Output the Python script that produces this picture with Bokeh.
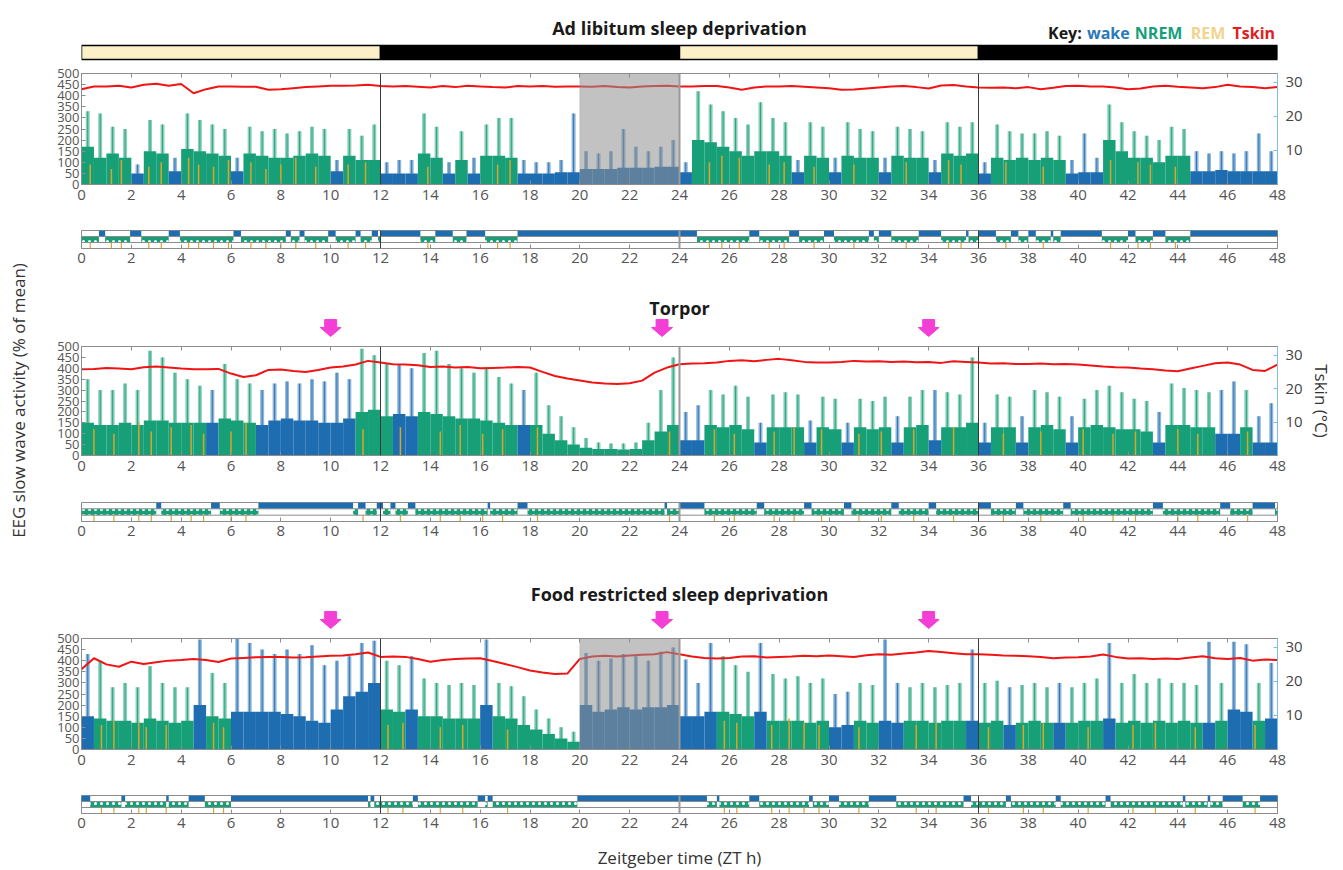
import numpy as np
from bokeh.plotting import figure
from bokeh.layouts import column, row
from bokeh.models import Range1d, LinearAxis, FixedTicker, Span, BoxAnnotation
from bokeh.embed import file_html
from bokeh.resources import INLINE
from bokeh.core.properties import value

# ---------------- data ----------------
hour_ticks = list(range(0, 49, 2))
swa_ticks = list(range(0, 501, 50))
tskin_ticks = [10, 20, 30]
day_boundaries = [12, 24, 36]
ld_start = [0, 12, 24, 36]
ld_end = [12, 24, 36, 48]
ld_phase = ["light", "dark", "light", "dark"]

t_grid = np.arange(0, 48.01, 0.5)      # Tskin sample times (h)
bin_mid = np.arange(0.25, 48, 0.5)     # SWA 30-min bins (h)

# --- Ad libitum sleep deprivation ---
state_adlib = ("NNNNWNNWNNNNWNNNNNNNWNNN" "WWWNNWNWNNNWWWWWWWWWWWWW"
               "WNNNNNNNNWNNWNNNWNNNWNNN" "WNNNNNNWWWNNNNNNNWWWWWWW")
swa_body_adlib = [170,120,140,120,50,150,140,60,160,150,140,130,60,140,130,120,120,130,140,130,60,130,110,110,
                  50,50,50,140,120,50,110,50,130,130,120,50,50,50,55,55,70,70,70,75,75,75,80,80,
                  55,200,190,170,150,130,150,150,130,55,130,120,55,130,120,120,55,130,120,120,55,140,130,140,
                  50,120,110,120,110,120,110,50,55,55,200,150,120,120,100,130,130,60,60,65,60,60,60,60]
swa_peak_adlib = [330,320,260,250,90,290,270,120,320,290,270,250,120,260,240,250,230,240,260,250,110,250,220,270,
                  100,110,110,320,260,100,240,120,270,300,300,110,100,100,110,320,150,140,150,250,170,150,170,200,
                  100,420,360,330,300,270,370,300,280,110,280,260,120,280,250,240,120,260,250,240,110,280,260,280,
                  100,270,240,230,230,240,220,110,230,120,360,280,240,220,200,260,250,150,140,150,140,150,230,150]
tskin_adlib = [28.0,28.8,28.8,29.0,28.5,29.3,29.6,29.0,29.5,26.8,28.0,28.8,28.8,28.7,28.7,27.8,28.0,28.3,28.6,28.8,29.0,29.0,29.1,29.3,
               28.9,28.8,28.9,28.7,28.5,28.9,28.6,29.0,28.8,28.6,28.5,28.9,28.8,28.9,28.7,28.8,28.8,28.7,28.9,28.6,28.5,28.8,28.9,29.0,
               28.8,28.8,28.9,28.9,28.5,27.8,28.5,28.8,28.8,28.9,28.7,28.5,28.3,27.8,27.9,28.2,28.5,28.8,28.9,28.6,28.2,29.1,29.2,28.8,
               28.5,28.4,28.5,28.3,28.6,28.0,28.4,28.9,29.0,28.8,28.8,28.5,28.0,28.2,28.8,29.0,28.7,28.5,28.3,28.6,29.3,28.8,28.6,28.3,28.6]
wake_adlib = [(0.7,0.95),(1.95,2.4),(3.5,3.95),(6.1,6.4),(8.2,8.4),(8.75,8.95),(9.9,10.2),(11.0,11.2),(11.65,11.9),
              (12.0,13.6),(14.2,14.9),(15.45,16.2),(17.5,24.7),(26.8,27.2),(28.4,28.8),(29.8,30.2),(31.6,31.8),
              (32.0,32.5),(33.6,34.5),(35.5,35.6),(36.0,36.7),(37.3,37.6),(38.0,38.3),(38.9,39.0),(39.3,40.95),
              (42.0,42.3),(43.0,43.5),(44.5,48.0)]
rem_adlib_t = [0.35,1.2,1.6,2.7,3.2,4.3,4.7,5.3,5.9,6.8,7.4,8.0,8.6,9.4,10.7,11.4,13.9,16.7,17.2,25.2,
               25.7,26.4,27.6,28.2,29.4,31.0,33.1,34.8,35.3,37.1,38.6,41.3,42.4,42.9,43.9]
rem_adlib_v = [90,70,110,80,100,120,90,80,110,100,70,90,120,80,90,100,80,90,110,100,
               130,120,90,100,80,90,100,110,90,100,80,110,100,90,80]
sd_adlib = [(20, 24)]

# --- Torpor ---
state_torpor = ("NNNNNNNNNNWNNNWWWWWWWWNN" "NWWNNNNNNNNWNNNNNNNNNNNN"
                "WWNNNNWNNNWNNWNNNWNNWNNN" "WNNWNNNWNNNNNNWNNNNWWNWW")
swa_body_torpor = [150,140,140,150,140,160,160,150,150,150,150,170,160,150,140,160,170,160,160,150,150,170,200,210,
                   180,190,180,200,190,180,170,170,160,150,140,140,140,100,70,50,35,30,30,28,30,70,110,140,
                   70,70,140,130,140,120,60,130,130,130,60,130,120,60,130,120,130,60,130,140,70,130,130,150,
                   60,130,130,60,130,140,120,60,130,140,130,120,120,110,60,140,140,130,130,100,100,130,60,60]
swa_peak_torpor = [350,300,300,330,300,480,450,380,350,320,300,420,350,330,300,330,340,330,350,340,380,350,490,460,
                   420,420,400,470,480,420,400,380,400,360,330,300,380,230,180,130,80,60,55,55,60,150,300,450,
                   200,230,300,280,320,270,150,280,290,280,160,270,260,150,260,250,270,180,270,300,300,290,280,450,
                   150,280,270,180,300,290,270,180,260,300,320,290,260,250,200,330,310,300,290,300,340,300,180,240]
tskin_torpor = [25.8,25.9,26.2,26.0,25.8,26.4,26.6,26.3,26.0,25.8,25.8,25.9,24.5,23.5,24.0,25.6,25.7,25.3,25.0,25.6,26.3,26.6,27.2,28.3,
                27.8,27.3,27.2,27.0,26.5,26.6,26.3,26.5,26.1,26.2,26.3,26.5,26.3,25.0,23.8,23.0,22.4,21.8,21.5,21.4,21.6,22.4,24.8,26.3,
                27.3,27.5,27.6,27.8,28.3,28.5,28.2,28.6,28.9,28.5,28.0,27.8,27.8,28.0,28.3,28.1,28.2,28.0,28.1,27.9,28.0,27.7,28.2,28.0,
                27.8,27.5,27.6,27.4,27.4,27.5,27.3,27.4,27.2,26.9,26.6,26.4,26.3,26.0,25.8,25.4,25.2,26.0,26.8,27.6,27.8,27.2,25.6,25.3,27.2]
wake_torpor = [(3.0,3.2),(5.2,5.55),(7.1,10.9),(11.1,11.4),(11.85,12.1),(12.4,12.6),(13.1,13.4),(16.3,16.4),
               (17.5,17.9),(23.4,23.5),(24.0,25.0),(27.1,27.4),(29.0,29.3),(30.6,30.9),(32.5,32.8),(34.0,34.3),
               (36.0,36.5),(37.5,37.8),(39.4,39.7),(43.0,43.4),(45.7,46.1),(47.0,47.9)]
rem_torpor_t = [0.5,1.3,2.3,2.8,3.6,4.4,4.9,6.0,6.6,11.3,12.8,14.4,15.2,16.1,16.9,18.3,23.6,25.4,26.2,27.8,
                28.6,29.7,31.2,32.1,33.4,35.0,37.0,38.5,40.2,41.4,42.3,44.0,44.8,46.8]
rem_torpor_v = [120,100,150,110,130,140,100,110,150,120,130,110,140,100,120,130,110,120,100,110,
                130,120,100,110,120,130,100,110,120,100,110,120,100,110]
arrows_torpor = [10, 23.3, 34]

# --- Food restricted sleep deprivation ---
state_food = ("WNNNNNNNNWNNWWWWWWWWWWWW" "NNWNNNNNWNNNNNNNWWWWWWWW"
              "WWWNNNWNNNNNWWNNWWNNNNNW" "NNWNNNWNNNWNNNNNNNWNWWNW")
swa_body_food = [150,140,130,130,120,140,130,120,130,200,150,140,170,170,170,170,160,150,130,120,180,240,260,300,
                 180,170,180,150,150,140,140,140,200,150,140,110,90,70,50,35,200,170,180,190,180,190,190,200,
                 150,150,170,170,160,150,170,130,130,130,120,130,100,110,130,120,130,120,130,130,120,130,130,130,
                 120,130,110,120,130,120,120,120,130,130,140,120,130,120,130,120,130,120,120,130,180,170,130,140]
swa_peak_food = [430,400,280,300,280,375,300,280,280,495,345,300,500,480,450,430,450,430,470,380,400,420,480,490,
                 400,380,420,320,300,290,300,290,495,300,285,240,180,140,100,80,435,400,410,430,420,400,440,460,
                 405,300,480,420,380,350,480,340,320,330,300,320,250,260,300,290,495,300,280,300,280,290,300,450,
                 300,310,280,290,300,280,300,280,300,320,480,300,340,300,320,300,300,290,485,300,485,474,300,390]
tskin_food = [23.6,26.8,25.0,24.3,25.8,25.1,25.6,26.1,26.3,26.6,26.3,25.7,26.7,26.9,27.1,27.2,27.2,27.0,27.1,27.3,27.5,27.6,28.0,28.5,
              27.2,27.3,27.2,26.6,25.8,26.3,26.6,26.7,26.8,26.0,25.1,24.2,23.2,22.6,22.2,22.3,26.6,27.3,27.5,27.3,27.6,27.8,28.0,28.6,
              28.0,27.3,26.9,26.7,26.9,27.3,27.4,27.0,27.2,27.3,27.5,27.4,27.6,27.4,27.2,27.7,28.0,27.8,28.2,28.5,28.9,28.6,28.3,28.0,
              28.0,27.8,27.6,27.5,27.4,27.2,26.8,27.0,27.1,27.3,27.9,27.2,26.7,26.8,26.6,26.7,26.6,27.0,27.4,26.8,26.6,26.9,26.1,26.4,26.3]
wake_food = [(0.0,0.35),(1.6,1.75),(3.4,3.5),(4.3,4.95),(6.0,11.5),(11.6,11.75),(13.3,13.5),(15.9,16.2),(16.3,16.5),
             (19.9,25.1),(25.5,25.6),(26.8,27.2),(29.2,29.35),(30.0,30.4),(31.6,32.7),(35.4,35.7),(37.1,37.3),
             (39.1,39.3),(41.1,41.3),(44.2,44.3),(45.2,45.3),(45.8,46.6),(47.3,48.0)]
rem_food_t = [0.8,1.3,2.3,2.6,3.4,5.3,5.7,12.3,12.9,14.4,15.3,17.1,25.8,26.3,27.7,28.4,29.0,29.6,31.2,33.5,
              34.3,36.4,37.8,38.6,40.4,42.2,43.1,44.7,47.1]
rem_food_v = [110,130,120,100,110,120,100,110,120,100,110,90,130,120,110,140,120,110,100,110,
              120,100,110,120,100,110,120,100,110]
sd_food = [(20, 24)]
arrows_food = [10, 23.3, 34]

# ---------------- style ----------------
FONT = "Open Sans"
C_WAKE = "#1f6db1"
C_NREM = "#17a077"
C_REM = "#d8a629"
C_TSK = "#f01414"
C_LIGHT = "#fcf0c8"
C_AX = "#8c8c8c"
COL_W = 1297
BL, BR = 43, 55


def base_fig(height, top, bottom, yr, axes=True):
    kw = {}
    if not axes:
        kw = dict(x_axis_location=None, y_axis_location=None)
    p = figure(width=COL_W, height=height, x_range=Range1d(0, 48), y_range=yr,
               min_border_left=BL, min_border_right=BR, min_border_top=top,
               min_border_bottom=bottom, output_backend="svg", toolbar_location=None, **kw)
    p.grid.visible = False
    p.background_fill_color = "white"
    p.border_fill_color = "white"
    p.outline_line_color = C_AX if axes else None
    return p


def style_axis(ax, size="15px", color="#555555", standoff=5, line=C_AX):
    ax.major_label_text_font = FONT
    ax.major_label_text_font_size = size
    ax.major_label_text_color = color
    ax.major_tick_in = 4
    ax.major_tick_out = 0
    ax.minor_tick_line_color = None
    ax.major_label_standoff = standoff
    ax.axis_line_color = line
    ax.major_tick_line_color = line


def add_top_ticks(p):
    ta = LinearAxis(ticker=FixedTicker(ticks=hour_ticks))
    style_axis(ta, size="0px", standoff=0)
    ta.major_label_text_alpha = 0
    p.add_layout(ta, "above")


def add_boundaries(p):
    for b in day_boundaries:
        if b == 24:
            p.add_layout(Span(location=b, dimension="height", line_color="#9a9a9a", line_width=2))
        else:
            p.add_layout(Span(location=b, dimension="height", line_color="#3a3a3a", line_width=1))


def complement(bouts):
    segs, cur = [], 0.0
    for a, b in sorted(bouts):
        if a > cur:
            segs.append((cur, a))
        cur = max(cur, b)
    if cur < 48:
        segs.append((cur, 48))
    return segs


def swa_panel(height, top, bottom, body, peak, state, rem_t, rem_v, tsk, shade, right_label=None):
    p = base_fig(height, top, bottom, Range1d(0, 500))
    p.extra_y_ranges = {"tskin": Range1d(0, 32.6)}
    cols = [C_WAKE if s == "W" else C_NREM for s in state]
    p.vbar(x=bin_mid, width=0.16, top=peak, bottom=0, fill_color=cols, fill_alpha=0.5, line_color=None)
    p.segment(x0=bin_mid, y0=body, x1=bin_mid, y1=peak, line_color=cols, line_alpha=0.85, line_width=1)
    p.vbar(x=bin_mid, width=0.5, top=body, bottom=0, fill_color=cols, line_color=None)
    p.segment(x0=rem_t, y0=[0] * len(rem_t), x1=rem_t, y1=rem_v, line_color=C_REM, line_width=1.5)
    for a, b in shade:
        p.add_layout(BoxAnnotation(left=a, right=b, fill_color="#8f8f8f", fill_alpha=0.55,
                                   line_color="#8f8f8f", level="glyph"))
    add_boundaries(p)
    p.line(x=t_grid, y=tsk, y_range_name="tskin", line_color=C_TSK, line_width=2)
    p.xaxis.ticker = FixedTicker(ticks=hour_ticks)
    style_axis(p.xaxis[0], standoff=5)
    p.yaxis.ticker = FixedTicker(ticks=swa_ticks)
    style_axis(p.yaxis[0], size="13px", standoff=2)
    ra = LinearAxis(y_range_name="tskin", ticker=FixedTicker(ticks=tskin_ticks))
    style_axis(ra, size="15px", color="#444444", standoff=8, line="#7dbde8")
    if right_label:
        ra.axis_label = right_label
        ra.axis_label_text_font = FONT
        ra.axis_label_text_font_size = "17px"
        ra.axis_label_text_font_style = "normal"
        ra.axis_label_text_color = "#333333"
        ra.axis_label_standoff = 4
    p.add_layout(ra, "right")
    add_top_ticks(p)
    return p


def hypno_panel(height, top, bottom, wake, rem_t):
    p = base_fig(height, top, bottom, Range1d(0, 3))
    p.yaxis.visible = False
    nrem = complement(wake)
    p.quad(left=[a for a, b in wake], right=[b for a, b in wake], bottom=2, top=3,
           fill_color=C_WAKE, line_color=None)
    p.quad(left=[a for a, b in nrem], right=[b for a, b in nrem], bottom=1, top=2,
           fill_color=C_NREM, line_color=None, hatch_pattern="dot", hatch_color="white",
           hatch_scale=6, hatch_weight=1.2)
    p.segment(x0=rem_t, y0=[0] * len(rem_t), x1=rem_t, y1=[1] * len(rem_t),
              line_color=C_REM, line_width=1.2)
    for lvl in (1, 2):
        p.add_layout(Span(location=lvl, dimension="width", line_color=C_AX, line_width=1))
    add_boundaries(p)
    p.xaxis.ticker = FixedTicker(ticks=hour_ticks)
    style_axis(p.xaxis[0], standoff=4)
    return p


def title_fig(height, y_top, y_bot, title, title_y, arrows=None, arrow_y=None):
    p = base_fig(height, 0, 0, Range1d(y_bot, y_top), axes=False)
    p.text(x=[24], y=[title_y], text=[title], text_align="center", text_baseline="middle",
           text_font=value(FONT), text_font_size="18px", text_font_style="bold", text_color="#1a1a1a")
    if arrows:
        y0, y1, y2 = arrow_y
        xs, ys = [], []
        for a in arrows:
            xs.append([a - 0.24, a + 0.24, a + 0.24, a + 0.42, a, a - 0.42, a - 0.24])
            ys.append([y0, y0, y1, y1, y2, y1, y1])
        p.patches(xs=xs, ys=ys, fill_color="#f43fd6", line_color="#f43fd6")
    return p


# ---------------- header ----------------
hdr = base_fig(64, 0, 0, Range1d(64, 0), axes=False)
hdr.text(x=[24], y=[27], text=["Ad libitum sleep deprivation"], text_align="center", text_baseline="middle",
         text_font=value(FONT), text_font_size="18px", text_font_style="bold", text_color="#1a1a1a")
px2h = lambda px: (px - 81) / 24.98
key_words = ["Key:", "wake", "NREM", "REM", "Tskin"]
key_cols = ["#1a1a1a", "#2a7ab8", "#16a07a", "#f2d48e", "#e0201e"]
key_px = [1050, 1089, 1137, 1193, 1235]
hdr.text(x=[px2h(v) for v in key_px], y=[32] * 5, text=key_words, text_color=key_cols,
         text_align="left", text_baseline="middle", text_font=value(FONT),
         text_font_size="16px", text_font_style="bold")
hdr.quad(left=ld_start, right=ld_end, top=45, bottom=59,
         fill_color=[C_LIGHT if ph == "light" else "black" for ph in ld_phase],
         line_color="black", line_width=1.5)

p1 = swa_panel(150, 9, 30, swa_body_adlib, swa_peak_adlib, state_adlib, rem_adlib_t, rem_adlib_v,
               tskin_adlib, sd_adlib)
h1 = hypno_panel(58, 16, 24, wake_adlib, rem_adlib_t)

t2 = title_fig(65, 272, 337, "Torpor", 307, arrows_torpor, (319, 327, 336))
p2 = swa_panel(145, 9, 27, swa_body_torpor, swa_peak_torpor, state_torpor, rem_torpor_t, rem_torpor_v,
               tskin_torpor, [], right_label="Tskin (°C)")
h2 = hypno_panel(64, 20, 25, wake_torpor, rem_torpor_t)

t3 = title_fig(83, 546, 629, "Food restricted sleep deprivation", 593, arrows_food, (611, 619, 628))
p3 = swa_panel(147, 9, 27, swa_body_food, swa_peak_food, state_food, rem_food_t, rem_food_v,
               tskin_food, sd_food)
h3 = hypno_panel(66, 19, 29, wake_food, rem_food_t)

xl = base_fig(28, 0, 0, Range1d(870, 842), axes=False)
xl.text(x=[24], y=[857], text=["Zeitgeber time (ZT h)"], text_align="center", text_baseline="middle",
        text_font=value(FONT), text_font_size="17px", text_color="#333333")

yl = figure(width=38, height=870, x_range=Range1d(0, 38), y_range=Range1d(870, 0),
            x_axis_location=None, y_axis_location=None, output_backend="svg", toolbar_location=None,
            min_border=0)
yl.outline_line_color = None
yl.grid.visible = False
yl.text(x=[18], y=[400], text=["EEG slow wave activity (% of mean)"], angle=np.pi / 2,
        text_align="center", text_baseline="middle", text_font=value(FONT),
        text_font_size="17px", text_color="#333333")

layout = row(yl, column(hdr, p1, h1, t2, p2, h2, t3, p3, h3, xl, spacing=0), spacing=0)
open("out.html", "w").write(file_html(layout, INLINE))
